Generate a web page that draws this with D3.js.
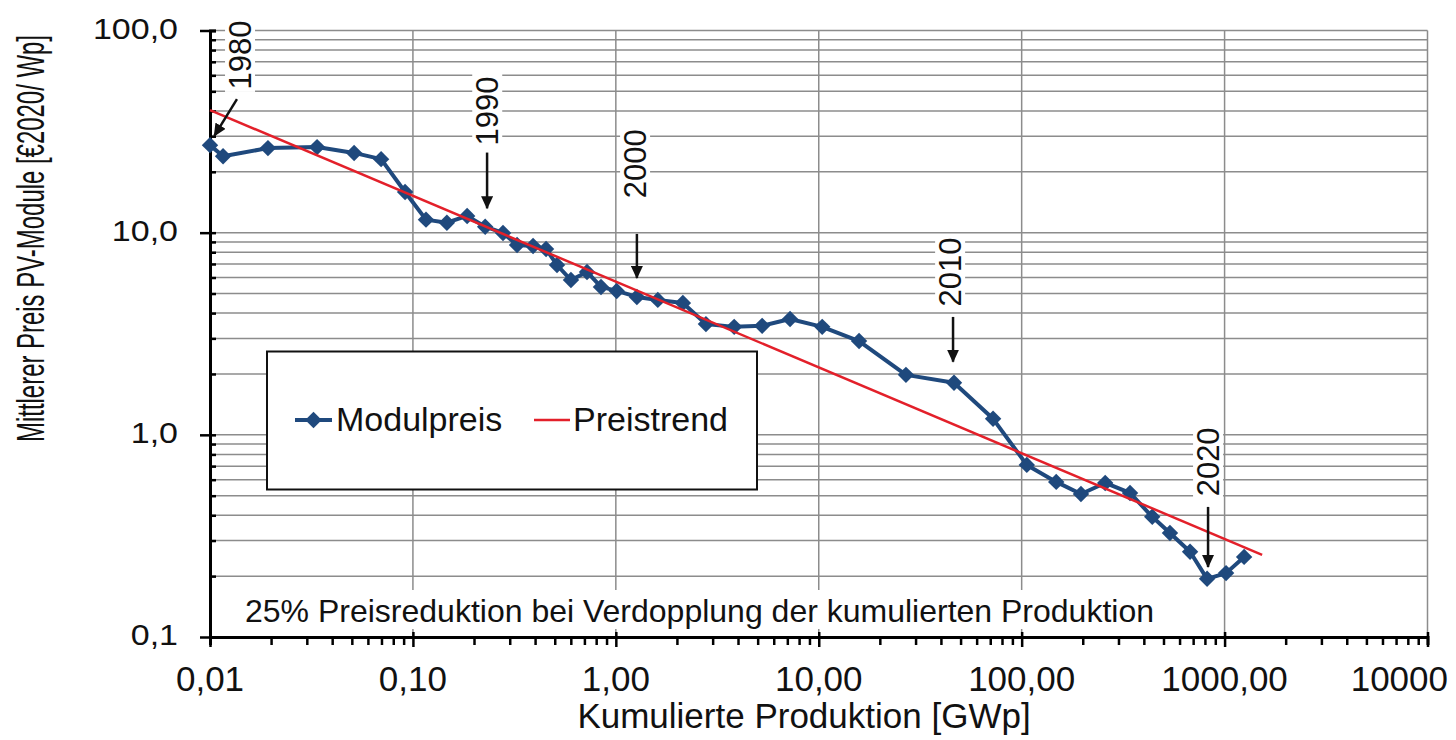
<!DOCTYPE html>
<html>
<head>
<meta charset="utf-8">
<script src="https://cdn.jsdelivr.net/npm/d3@7"></script>
<style>
  body { margin: 0; background: #ffffff; }
  svg text { font-family: Arial, "Liberation Sans", sans-serif; fill: #111; }
</style>
</head>
<body>
<script>
// kumulierte Produktion (GWp) und Modulpreis (EUR2020/Wp), 1980 - 2022
var produktion = [0.01, 0.0116, 0.0193, 0.0337, 0.0513, 0.0697, 0.0915, 0.116, 0.147, 0.185,
                  0.227, 0.278, 0.326, 0.391, 0.453, 0.513, 0.601, 0.721, 0.845, 1.01,
                  1.27, 1.61, 2.14, 2.78, 3.83, 5.26, 7.22, 10.4, 15.8, 26.9,
                  46.4, 72.3, 106, 148, 196, 258, 342, 440, 538, 676,
                  820, 1017, 1248];
var modulpreis = [27.1, 23.9, 26.2, 26.5, 24.8, 23.1, 15.9, 11.6, 11.2, 12.1,
                  10.7, 9.97, 8.69, 8.59, 8.30, 6.92, 5.83, 6.39, 5.39, 5.15,
                  4.81, 4.65, 4.49, 3.53, 3.42, 3.46, 3.74, 3.42, 2.91, 1.98,
                  1.81, 1.20, 0.71, 0.585, 0.510, 0.578, 0.516, 0.393, 0.327, 0.264,
                  0.194, 0.207, 0.249];

// Preistrend (Lernkurve), Anfangs- und Endpunkt
var trendProduktion = [0.01, 1531];
var trendPreis = [40.4, 0.255];

var xTickWerte = [0.01, 0.1, 1, 10, 100, 1000, 10000];
var xTickLabels = ["0,01", "0,10", "1,00", "10,00", "100,00", "1000,00", "10000"];
var yTickWerte = [0.1, 1, 10, 100];
var yTickLabels = ["0,1", "1,0", "10,0", "100,0"];

// Jahresmarken mit Pfeilen (in Datenkoordinaten)
var jahre = ["1980", "1990", "2000", "2010", "2020"];
var pfeilSpitzeX = [0.0105, 0.232, 1.27, 45.9, 829];
var pfeilSpitzeY = [30.1, 13.2, 5.97, 2.30, 0.222];
var pfeilEndeX = [0.01358, 0.232, 1.27, 45.9, 829];
var pfeilEndeY = [45.8, 24.9, 9.86, 3.83, 0.440];
var jahrTextX = [0.01406, 0.2324, 1.244, 44.4, 829];
var jahrTextY = [75.7, 40.0, 21.9, 6.39, 0.735];

var blau = "#1f497d", rot = "#e3202a", grau = "#8c8c8c";

var width = 1456, height = 740;
var svg = d3.select("body").append("svg")
            .attr("width", width)
            .attr("height", height);

var x = d3.scaleLog().domain([0.01, 10000]).range([210, 1427.5]);
var y = d3.scaleLog().domain([0.1, 100]).range([637, 30.5]);

svg.append("defs").append("marker")
   .attr("id", "pfeil")
   .attr("markerUnits", "userSpaceOnUse")
   .attr("markerWidth", 14).attr("markerHeight", 12)
   .attr("refX", 12).attr("refY", 6)
   .attr("orient", "auto")
   .append("path")
   .attr("d", "M0,0 L13,6 L0,12 Z")
   .attr("fill", "#111");

// Gitternetz
var grid = svg.append("g");
grid.selectAll("line.h").data(y.ticks()).enter().append("line")
    .attr("class", "h")
    .attr("x1", x(0.01)).attr("x2", x(10000))
    .attr("y1", function(d){ return y(d); })
    .attr("y2", function(d){ return y(d); })
    .attr("stroke", grau).attr("stroke-width", 1.5);
grid.selectAll("line.v").data(xTickWerte).enter().append("line")
    .attr("class", "v")
    .attr("x1", function(d){ return x(d); })
    .attr("x2", function(d){ return x(d); })
    .attr("y1", y(100)).attr("y2", y(0.1))
    .attr("stroke", grau).attr("stroke-width", 1.5);

// Hinweistext mit weissem Hintergrund
svg.append("rect")
   .attr("x", 228).attr("y", 590).attr("width", 942).attr("height", 39)
   .attr("fill", "#fff");
svg.append("text")
   .attr("x", 245).attr("y", 622)
   .attr("font-size", 32)
   .text("25% Preisreduktion bei Verdopplung der kumulierten Produktion");

// Achsen
var xAxis = d3.axisBottom(x).tickValues(x.ticks()).tickSize(8).tickFormat("");
var gx = svg.append("g").attr("transform", "translate(0," + y(0.1) + ")").call(xAxis);
gx.select(".domain").attr("stroke", "#000").attr("stroke-width", 3);
gx.selectAll(".tick line").attr("stroke", "#000").attr("stroke-width", 2.5);
gx.selectAll(".tick")
  .filter(function(d){ return xTickWerte.indexOf(d) >= 0; })
  .select("line").attr("y1", -5).attr("y2", 10);

var yAxis = d3.axisLeft(y).tickValues(y.ticks()).tickSize(-6).tickFormat("");
var gy = svg.append("g").attr("transform", "translate(" + x(0.01) + ",0)").call(yAxis);
gy.select(".domain").attr("stroke", "#000").attr("stroke-width", 3);
gy.selectAll(".tick line").attr("stroke", "#000").attr("stroke-width", 2.5);
gy.selectAll(".tick")
  .filter(function(d){ return yTickWerte.indexOf(d) >= 0; })
  .select("line").attr("x1", -10).attr("x2", 6);

svg.selectAll("text.xlab").data(xTickWerte).enter().append("text")
   .attr("class", "xlab")
   .attr("x", function(d, i){ return i === xTickWerte.length - 1 ? 1448 : x(d); })
   .attr("y", 691)
   .attr("text-anchor", function(d, i){ return i === xTickWerte.length - 1 ? "end" : "middle"; })
   .attr("font-size", 35)
   .text(function(d, i){ return xTickLabels[i]; });

svg.selectAll("text.ylab").data(yTickWerte).enter().append("text")
   .attr("class", "ylab")
   .attr("transform", function(d){ return "translate(178," + (y(d) + 8) + ") scale(1,0.86)"; })
   .attr("text-anchor", "end")
   .attr("font-size", 34)
   .text(function(d, i){ return yTickLabels[i]; });

svg.append("text")
   .attr("x", 804).attr("y", 728)
   .attr("text-anchor", "middle")
   .attr("font-size", 35)
   .text("Kumulierte Produktion [GWp]");

svg.append("text")
   .attr("transform", "translate(44,238.5) rotate(-90) scale(0.63,1)")
   .attr("text-anchor", "middle")
   .attr("font-size", 38)
   .text("Mittlerer Preis PV-Module [€2020/ Wp]");

// Modulpreis
var punkte = produktion.map(function(p, i){ return [p, modulpreis[i]]; });
var linie = d3.line()
              .x(function(d){ return x(d[0]); })
              .y(function(d){ return y(d[1]); });
svg.append("path")
   .datum(punkte)
   .attr("d", linie)
   .attr("fill", "none")
   .attr("stroke", blau)
   .attr("stroke-width", 4)
   .attr("stroke-linejoin", "round");
var raute = d3.symbol().type(d3.symbolSquare).size(135);
svg.selectAll("path.raute").data(punkte).enter().append("path")
   .attr("class", "raute")
   .attr("d", raute)
   .attr("transform", function(d){ return "translate(" + x(d[0]) + "," + y(d[1]) + ") rotate(45)"; })
   .attr("fill", blau);

// Preistrend
var trend = trendProduktion.map(function(p, i){ return [p, trendPreis[i]]; });
svg.append("path")
   .datum(trend)
   .attr("d", linie)
   .attr("fill", "none")
   .attr("stroke", rot)
   .attr("stroke-width", 2.5);

// Jahresmarken
var marken = svg.selectAll("g.jahr").data(jahre).enter().append("g").attr("class", "jahr");
marken.append("rect")
      .attr("x", function(d, i){ return x(jahrTextX[i]) - 15; })
      .attr("y", function(d, i){ return y(jahrTextY[i]) - 37; })
      .attr("width", 30).attr("height", 74)
      .attr("fill", "#fff");
marken.append("text")
      .attr("transform", function(d, i){
          return "translate(" + (x(jahrTextX[i]) + 11) + "," + y(jahrTextY[i]) + ") rotate(-90)";
      })
      .attr("text-anchor", "middle")
      .attr("font-size", 31)
      .text(function(d){ return d; });
marken.append("line")
      .attr("x1", function(d, i){ return x(pfeilEndeX[i]); })
      .attr("y1", function(d, i){ return y(pfeilEndeY[i]); })
      .attr("x2", function(d, i){ return x(pfeilSpitzeX[i]); })
      .attr("y2", function(d, i){ return y(pfeilSpitzeY[i]); })
      .attr("stroke", "#111").attr("stroke-width", 2.5)
      .attr("marker-end", "url(#pfeil)");

// Legende
var leg = svg.append("g");
leg.append("rect")
   .attr("x", 267).attr("y", 351.5).attr("width", 490).attr("height", 138)
   .attr("fill", "#fff").attr("stroke", "#111").attr("stroke-width", 2);
leg.append("line")
   .attr("x1", 295).attr("x2", 332).attr("y1", 420).attr("y2", 420)
   .attr("stroke", blau).attr("stroke-width", 4);
leg.append("path")
   .attr("d", raute)
   .attr("transform", "translate(313.5,420) rotate(45)")
   .attr("fill", blau);
leg.append("text").attr("x", 336).attr("y", 431).attr("font-size", 34).text("Modulpreis");
leg.append("line")
   .attr("x1", 534).attr("x2", 570).attr("y1", 420).attr("y2", 420)
   .attr("stroke", rot).attr("stroke-width", 2.5);
leg.append("text").attr("x", 573).attr("y", 431).attr("font-size", 34).text("Preistrend");
</script>
</body>
</html>
